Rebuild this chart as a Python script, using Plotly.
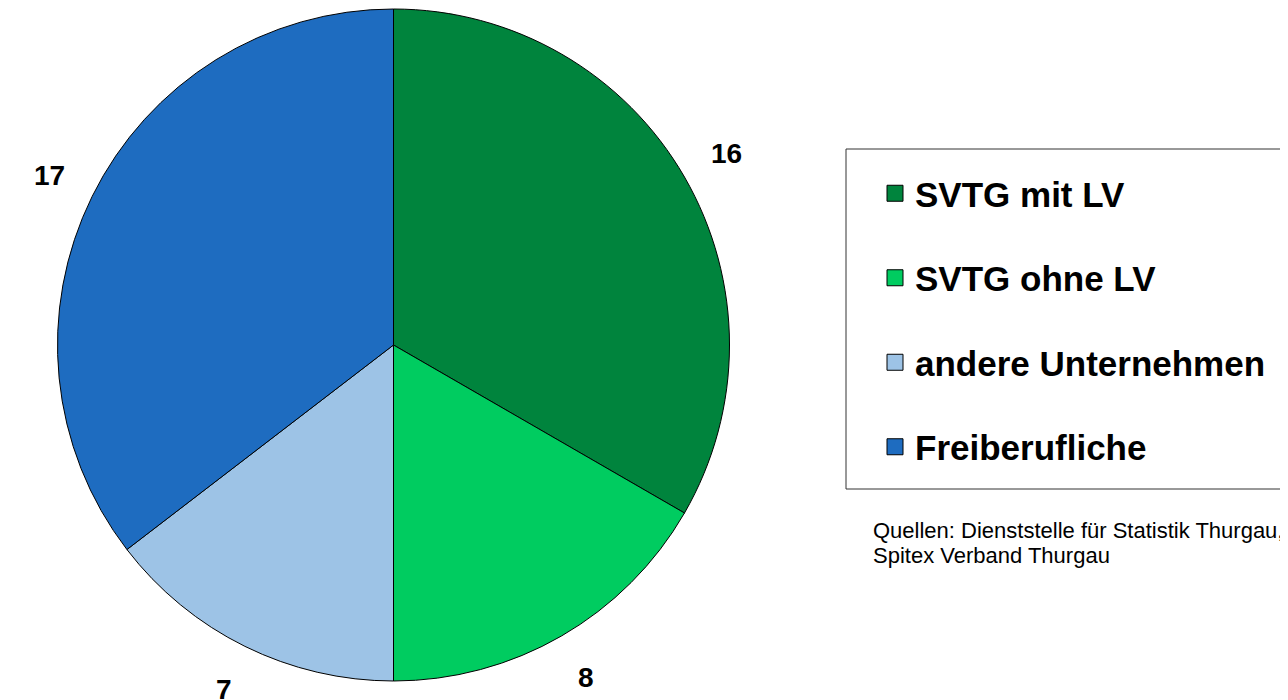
import math
import plotly.graph_objects as go

# ---- data ----
categories = ["SVTG mit LV", "SVTG ohne LV", "andere Unternehmen", "Freiberufliche"]
values = [16, 8, 7, 17]
colors = ["#00843D", "#00CC60", "#9DC3E6", "#1E6CC0"]
source_lines = ["Quellen: Dienststelle für Statistik Thurgau,", "Spitex Verband Thurgau"]

# ---- layout constants (page offset of the default html body margin) ----
OFF = 8
W, H = 1288 - OFF, 700 - OFF
PIE_L, PIE_R, PIE_T, PIE_B = 57 - OFF, 730 - OFF, 9 - OFF, 681 - OFF
FONT = "Arial, 'Liberation Sans', sans-serif"

fig = go.Figure()

fig.add_trace(go.Pie(
    labels=categories,
    values=values,
    marker=dict(colors=colors, line=dict(color="black", width=1)),
    sort=False,
    direction="clockwise",
    rotation=0,
    textinfo="none",
    hoverinfo="label+value",
    showlegend=False,
    domain=dict(x=[PIE_L / W, PIE_R / W], y=[1 - PIE_B / H, 1 - PIE_T / H]),
))

# legend entries (one per category)
for name, col in zip(categories, colors):
    fig.add_trace(go.Scatter(
        x=[None], y=[None], mode="markers", name=name, legendgroup=name,
        marker=dict(symbol="square", size=17, color=col, line=dict(color="black", width=1)),
        hoverinfo="skip",
    ))

# value labels, placed from the data (mid-angle of each slice)
cx = (PIE_L + PIE_R) / 2
cy = (PIE_T + PIE_B) / 2
r = min(PIE_R - PIE_L, PIE_B - PIE_T) / 2
r_lab = r + 48
total = sum(values)
cum = 0
annotations = []
for v in values:
    mid = cum + v / 2
    cum += v
    ang = math.radians(90 - 360 * mid / total)
    px = cx + r_lab * math.cos(ang)
    py = cy - r_lab * math.sin(ang)
    annotations.append(dict(
        x=px / W, y=1 - py / H, xref="paper", yref="paper",
        text=str(v), showarrow=False, xanchor="center", yanchor="middle",
        font=dict(family=FONT, size=28, color="black", weight="bold"),
    ))

for i, line in enumerate(source_lines):
    annotations.append(dict(
        x=(871 - OFF) / W, y=1 - (530 - OFF + 25 * i) / H, xref="paper", yref="paper",
        text=line, showarrow=False, xanchor="left", yanchor="middle",
        font=dict(family=FONT, size=22, color="black"),
    ))

fig.update_layout(
    width=W, height=H,
    margin=dict(l=0, r=0, t=0, b=0),
    paper_bgcolor="white", plot_bgcolor="white",
    xaxis=dict(visible=False), yaxis=dict(visible=False),
    showlegend=True,
    legend=dict(
        x=(875 - OFF) / W, y=1 - (164 - OFF) / H, xanchor="left", yanchor="top",
        font=dict(family=FONT, size=35, color="black", weight="bold"),
        bgcolor="rgba(0,0,0,0)", borderwidth=0, tracegroupgap=36,
        itemclick=False, itemdoubleclick=False,
    ),
    shapes=[dict(
        type="rect", xref="paper", yref="paper",
        x0=(846 - OFF) / W, x1=1.05, y0=1 - (489 - OFF) / H, y1=1 - (149 - OFF) / H,
        line=dict(color="#333333", width=1), fillcolor="rgba(0,0,0,0)", layer="below",
    )],
    annotations=annotations,
)

fig.write_html("out.html")
